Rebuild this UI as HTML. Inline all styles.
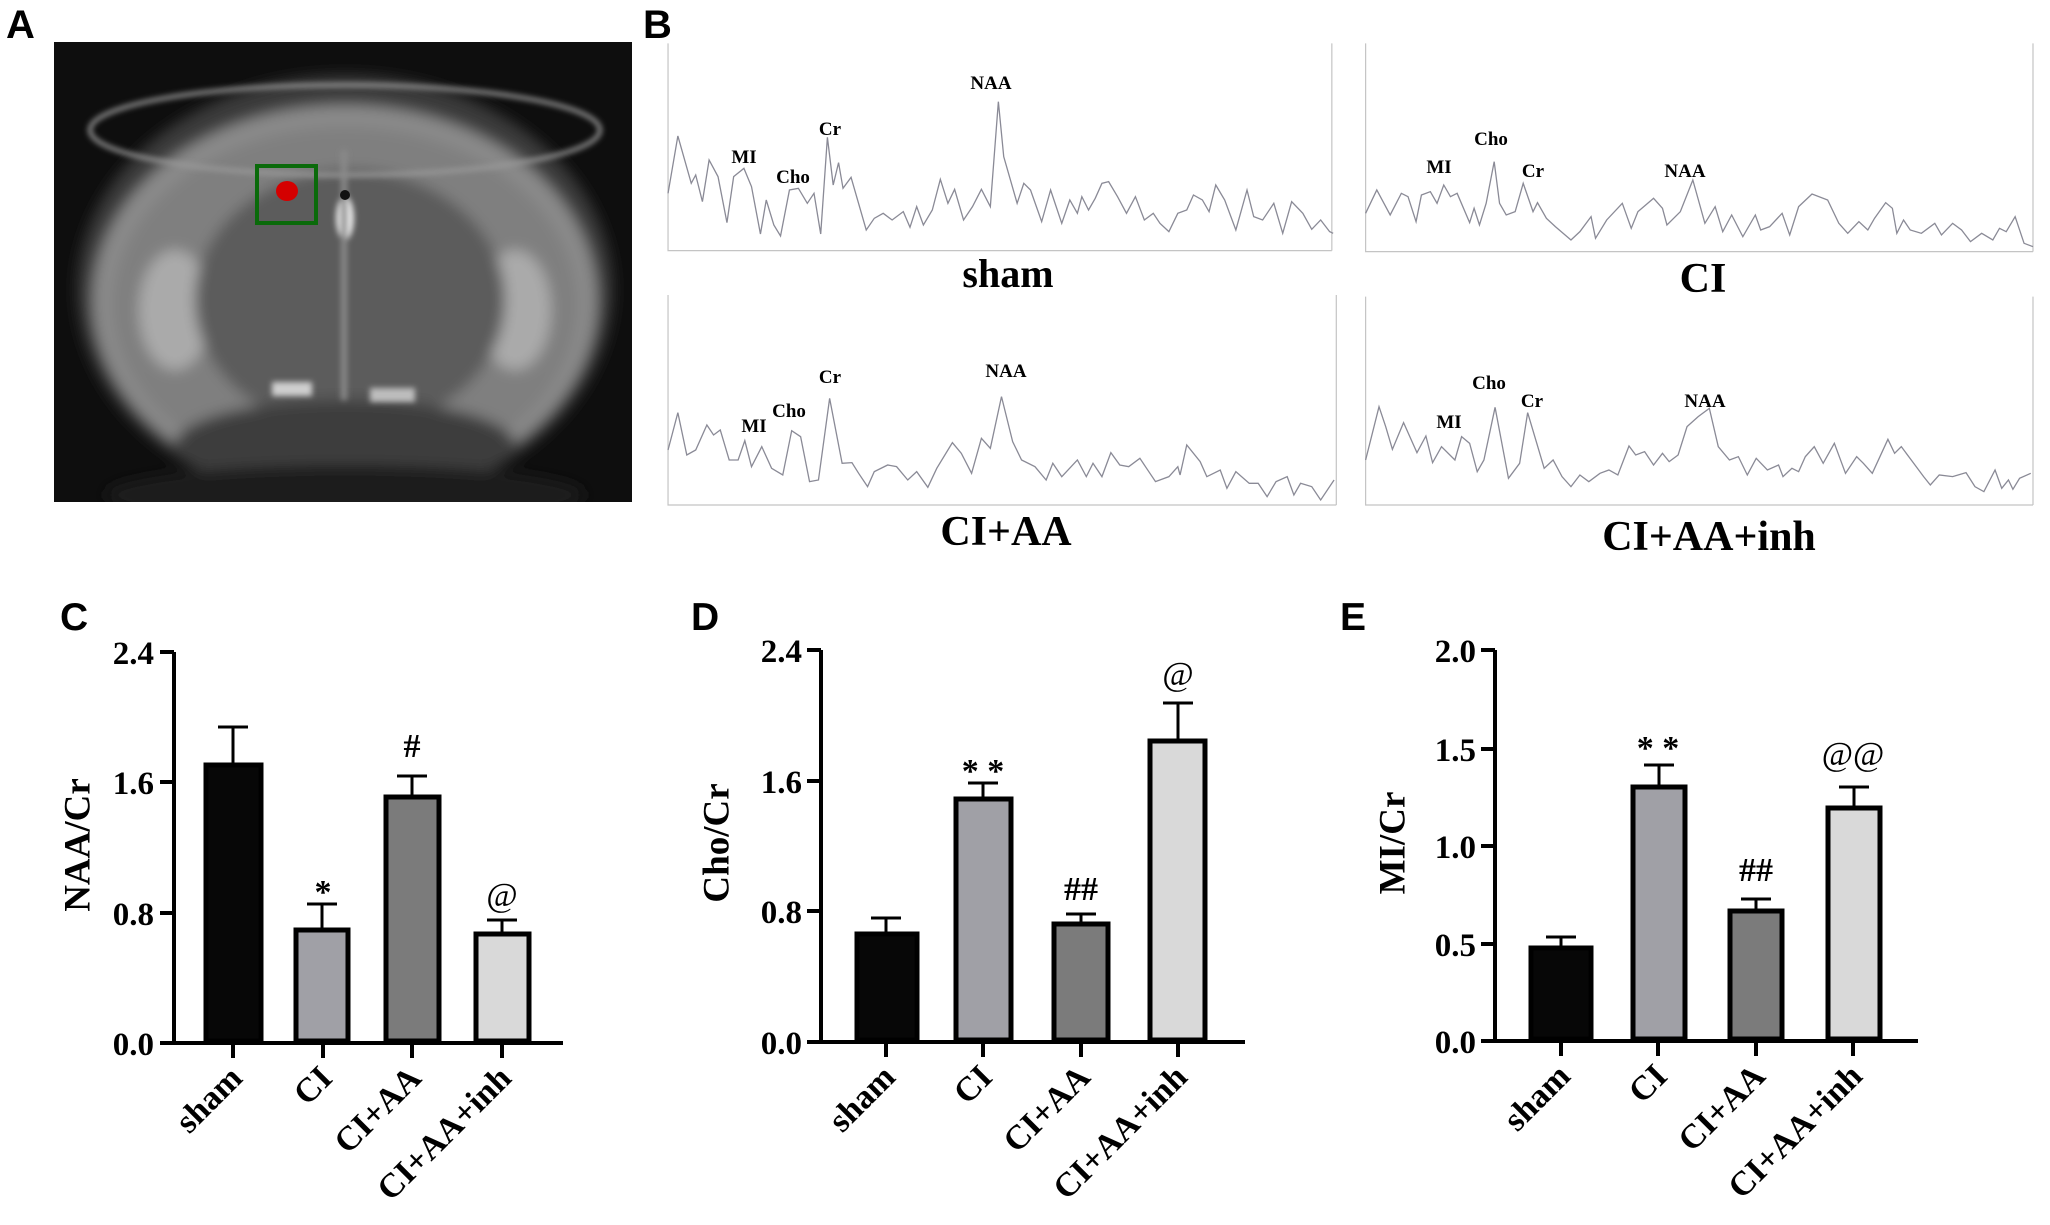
<!DOCTYPE html>
<html><head><meta charset="utf-8"><style>
html,body{margin:0;padding:0;background:#fff;}
svg{display:block;}
.t{font-family:"Liberation Serif",serif;font-weight:bold;fill:#000;}
.s{font-family:"Liberation Sans",sans-serif;font-weight:bold;fill:#000;}
.sp{fill:none;stroke:#8a8a96;stroke-width:1.3;vector-effect:non-scaling-stroke;}
.ax{stroke:#c4c4c4;stroke-width:1.2;vector-effect:non-scaling-stroke;fill:none;}
</style></head><body>
<svg width="2050" height="1225" viewBox="0 0 2050 1225" xmlns="http://www.w3.org/2000/svg">
<defs>
<filter id="bl" x="-20%" y="-20%" width="140%" height="140%"><feGaussianBlur stdDeviation="7"/></filter>
<filter id="bl2"><feGaussianBlur stdDeviation="3"/></filter>
<clipPath id="mri"><rect x="54" y="42" width="578" height="460"/></clipPath>
</defs>
<!-- Panel letters -->
<text class="s" x="6" y="38" font-size="40">A</text>
<text class="s" x="643" y="38" font-size="40">B</text>
<text class="s" x="60" y="630" font-size="39">C</text>
<text class="s" x="691" y="630" font-size="39">D</text>
<text class="s" x="1340" y="630" font-size="39">E</text>

<!-- MRI panel A -->
<rect x="54" y="42" width="578" height="460" fill="#0e0e0e"/>
<g clip-path="url(#mri)">
<g filter="url(#bl)">
<ellipse cx="345" cy="290" rx="268" ry="215" fill="#3a3a3a"/>
<ellipse cx="345" cy="300" rx="252" ry="195" fill="#8a8a8a"/>
<ellipse cx="345" cy="305" rx="232" ry="178" fill="#7f7f7f"/>
<ellipse cx="175" cy="310" rx="36" ry="60" fill="#aaaaaa"/>
<ellipse cx="515" cy="310" rx="36" ry="60" fill="#aaaaaa"/>
<ellipse cx="350" cy="300" rx="155" ry="130" fill="#5c5c5c"/>
<ellipse cx="345" cy="445" rx="170" ry="45" fill="#3c3c3c"/>
<ellipse cx="345" cy="495" rx="240" ry="30" fill="#1a1a1a"/>
</g>
<g filter="url(#bl2)">
<ellipse cx="345" cy="130" rx="255" ry="45" fill="none" stroke="#9a9a9a" stroke-width="4"/>
<ellipse cx="345" cy="218" rx="9" ry="22" fill="#e8e8e8"/>
<rect x="341" y="150" width="6" height="250" fill="#8a8a8a"/>
<rect x="272" y="382" width="40" height="14" fill="#cfcfcf"/>
<rect x="370" y="388" width="45" height="14" fill="#bdbdbd"/>
</g>
</g>
<circle cx="345" cy="195" r="5" fill="#111"/>
<rect x="257" y="166" width="59" height="57" fill="none" stroke="#0a6a0a" stroke-width="4"/>
<ellipse cx="287" cy="191" rx="11" ry="10" fill="#d40000"/>

<!-- Panel B spectra -->
<g transform="translate(660,30) scale(0.4464,0.3333)">
<path class="ax" d="M18,40 V662 H1505 M1505,40 V662"/>
<polyline class="sp" points="18,490 40,318 70,460 80,435 95,515 110,390 130,440 150,578 165,440 188,415 205,470 225,612 238,510 255,585 270,618 290,480 310,475 330,520 345,490 360,612 375,322 388,465 400,398 410,475 428,442 462,600 480,565 500,550 520,570 545,545 560,592 575,530 590,585 610,540 628,448 645,520 660,478 680,570 700,530 720,478 740,530 758,215 770,380 800,520 815,460 830,480 855,575 875,480 900,580 918,510 935,550 945,500 960,540 975,505 990,460 1005,455 1025,500 1045,550 1065,500 1085,570 1105,550 1120,580 1140,605 1160,550 1180,540 1195,495 1215,510 1230,545 1245,465 1265,510 1290,600 1315,480 1330,560 1350,570 1375,520 1395,610 1415,515 1440,550 1460,598 1480,570 1500,605 1508,610"/>
</g>
<g class="t" font-size="19" text-anchor="middle">
<text x="744" y="163">MI</text><text x="793" y="183">Cho</text><text x="830" y="135">Cr</text><text x="991" y="89">NAA</text>
</g>
<text class="t" x="1008" y="287" font-size="40" text-anchor="middle">sham</text>

<g transform="translate(1350,30) scale(0.4464,0.3333)">
<path class="ax" d="M35,40 V665 H1530 M1530,40 V665"/>
<polyline class="sp" points="35,550 60,480 90,555 115,490 130,500 148,575 160,495 180,485 195,520 210,465 225,500 240,490 268,578 278,535 290,585 305,520 323,395 335,520 350,555 370,545 388,460 410,545 420,518 440,565 460,590 495,630 515,605 540,560 550,625 575,570 610,520 630,595 645,545 680,505 700,535 710,585 740,545 768,450 795,580 818,530 835,605 855,555 880,620 908,555 920,600 940,590 968,550 985,615 1005,530 1035,492 1070,510 1095,580 1115,610 1140,575 1160,600 1175,565 1200,518 1215,535 1225,610 1240,570 1255,600 1280,610 1310,580 1325,615 1350,580 1370,600 1390,635 1415,610 1440,630 1455,595 1470,605 1490,560 1510,640 1530,650"/>
</g>
<g class="t" font-size="19" text-anchor="middle">
<text x="1439" y="173">MI</text><text x="1491" y="145">Cho</text><text x="1533" y="177">Cr</text><text x="1685" y="177">NAA</text>
</g>
<text class="t" x="1703" y="292" font-size="42" text-anchor="middle">CI</text>

<g transform="translate(660,290) scale(0.4464,0.3333)">
<path class="ax" d="M18,15 V645 H1515 M1515,15 V645"/>
<polyline class="sp" points="18,480 40,368 60,495 80,480 105,405 120,435 135,420 155,510 175,510 190,452 205,530 228,470 250,535 275,555 295,422 315,440 335,575 355,570 380,325 408,520 430,518 445,550 465,590 480,545 510,525 530,530 555,570 575,545 600,592 620,535 655,458 675,490 698,550 720,445 740,475 765,320 790,455 810,510 840,530 865,570 880,520 900,560 935,510 955,560 970,520 990,560 1010,488 1030,525 1050,530 1075,505 1090,535 1110,575 1140,560 1160,530 1165,555 1180,465 1210,515 1225,560 1255,540 1270,595 1290,545 1320,580 1340,580 1360,620 1380,575 1405,560 1420,615 1435,580 1460,590 1480,630 1510,570"/>
</g>
<g class="t" font-size="19" text-anchor="middle">
<text x="754" y="432">MI</text><text x="789" y="417">Cho</text><text x="830" y="383">Cr</text><text x="1006" y="377">NAA</text>
</g>
<text class="t" x="1006" y="545" font-size="42" text-anchor="middle">CI+AA</text>

<g transform="translate(1350,290) scale(0.4464,0.3333)">
<path class="ax" d="M35,20 V645 H1530 M1530,20 V645"/>
<polyline class="sp" points="35,510 65,350 80,410 95,478 120,398 150,488 170,438 185,518 205,470 235,510 250,440 268,460 285,545 300,510 325,352 355,565 380,520 398,368 418,458 435,535 455,510 475,560 495,590 515,555 535,575 560,550 580,540 600,555 625,468 640,495 660,485 680,525 700,490 715,515 735,495 755,410 780,380 805,355 825,470 850,510 870,500 890,555 910,505 935,540 960,525 970,560 990,535 1005,545 1020,500 1040,470 1060,520 1085,460 1110,550 1135,500 1150,520 1170,550 1205,448 1220,490 1235,470 1260,515 1285,560 1300,585 1320,555 1350,560 1380,548 1400,590 1420,605 1445,540 1460,595 1475,570 1485,598 1500,565 1525,550"/>
</g>
<g class="t" font-size="19" text-anchor="middle">
<text x="1449" y="428">MI</text><text x="1489" y="389">Cho</text><text x="1532" y="407">Cr</text><text x="1705" y="407">NAA</text>
</g>
<text class="t" x="1709" y="550" font-size="42" text-anchor="middle">CI+AA+inh</text>

<!-- Panel C -->
<g stroke="#000" stroke-width="4" fill="none">
<path d="M174,652 V1043 H563"/>
<path d="M160,652 H174 M160,782 H174 M160,913 H174 M160,1043 H174"/>
<path d="M233,1043 V1058 M323,1043 V1058 M412,1043 V1058 M502,1043 V1058"/>
</g>
<g stroke="#000" stroke-width="3">
<path d="M233,763 V727 M218,727 H248"/>
<path d="M322,928 V904 M307,904 H337"/>
<path d="M412,795 V776 M397,776 H427"/>
<path d="M502,932 V920 M487,920 H517"/>
</g>
<g stroke="#000" stroke-width="5">
<rect x="206" y="765" width="55" height="276" fill="#070707"/>
<rect x="296" y="930" width="52" height="111" fill="#a0a0a6"/>
<rect x="386" y="797" width="53" height="244" fill="#7b7b7b"/>
<rect x="476" y="934" width="53" height="107" fill="#d9d9d9"/>
</g>
<g class="t" font-size="33" text-anchor="end">
<text x="154" y="664">2.4</text><text x="154" y="794">1.6</text><text x="154" y="925">0.8</text><text x="154" y="1055">0.0</text>
</g>
<text class="t" font-size="37" text-anchor="middle" dominant-baseline="central" transform="translate(78,845) rotate(-90)">NAA/Cr</text>
<g class="t" font-size="34" text-anchor="middle">
<text x="323" y="903">*</text><text x="412" y="757">#</text><text x="502" y="906" font-weight="normal">@</text>
</g>
<g class="t" font-size="34" text-anchor="end">
<text transform="translate(244,1080) rotate(-45)">sham</text>
<text transform="translate(334,1080) rotate(-45)">CI</text>
<text transform="translate(423,1080) rotate(-45)">CI+AA</text>
<text transform="translate(513,1080) rotate(-45)">CI+AA+inh</text>
</g>

<!-- Panel D -->
<g stroke="#000" stroke-width="4" fill="none">
<path d="M821,650 V1042 H1245"/>
<path d="M807,650 H821 M807,781 H821 M807,911 H821 M807,1042 H821"/>
<path d="M886,1042 V1057 M983,1042 V1057 M1081,1042 V1057 M1178,1042 V1057"/>
</g>
<g stroke="#000" stroke-width="3">
<path d="M886,932 V918 M871,918 H901"/>
<path d="M983,797 V783 M968,783 H998"/>
<path d="M1081,922 V914 M1066,914 H1096"/>
<path d="M1178,739 V703 M1163,703 H1193"/>
</g>
<g stroke="#000" stroke-width="5">
<rect x="857" y="934" width="60" height="106" fill="#070707"/>
<rect x="956" y="799" width="55" height="241" fill="#a0a0a6"/>
<rect x="1054" y="924" width="54" height="116" fill="#7b7b7b"/>
<rect x="1150" y="741" width="55" height="299" fill="#d9d9d9"/>
</g>
<g class="t" font-size="33" text-anchor="end">
<text x="802" y="662">2.4</text><text x="802" y="793">1.6</text><text x="802" y="923">0.8</text><text x="802" y="1054">0.0</text>
</g>
<text class="t" font-size="37" text-anchor="middle" dominant-baseline="central" transform="translate(717,843) rotate(-90)">Cho/Cr</text>
<g class="t" font-size="34" text-anchor="middle">
<text x="983" y="782">* *</text><text x="1081" y="900">##</text><text x="1178" y="685" font-weight="normal">@</text>
</g>
<g class="t" font-size="34" text-anchor="end">
<text transform="translate(897,1079) rotate(-45)">sham</text>
<text transform="translate(994,1079) rotate(-45)">CI</text>
<text transform="translate(1092,1079) rotate(-45)">CI+AA</text>
<text transform="translate(1189,1079) rotate(-45)">CI+AA+inh</text>
</g>

<!-- Panel E -->
<g stroke="#000" stroke-width="4" fill="none">
<path d="M1495,650 V1041 H1918"/>
<path d="M1481,650 H1495 M1481,749 H1495 M1481,846 H1495 M1481,944 H1495 M1481,1041 H1495"/>
<path d="M1561,1041 V1056 M1658,1041 V1056 M1756,1041 V1056 M1853,1041 V1056"/>
</g>
<g stroke="#000" stroke-width="3">
<path d="M1561,946 V937 M1546,937 H1576"/>
<path d="M1659,785 V765 M1644,765 H1674"/>
<path d="M1756,909 V899 M1741,899 H1771"/>
<path d="M1854,806 V787 M1839,787 H1869"/>
</g>
<g stroke="#000" stroke-width="5">
<rect x="1531" y="948" width="60" height="91" fill="#070707"/>
<rect x="1633" y="787" width="52" height="252" fill="#a0a0a6"/>
<rect x="1730" y="911" width="52" height="128" fill="#7b7b7b"/>
<rect x="1828" y="808" width="52" height="231" fill="#d9d9d9"/>
</g>
<g class="t" font-size="33" text-anchor="end">
<text x="1476" y="662">2.0</text><text x="1476" y="761">1.5</text><text x="1476" y="858">1.0</text><text x="1476" y="956">0.5</text><text x="1476" y="1053">0.0</text>
</g>
<text class="t" font-size="37" text-anchor="middle" dominant-baseline="central" transform="translate(1393,843) rotate(-90)">MI/Cr</text>
<g class="t" font-size="34" text-anchor="middle">
<text x="1658" y="759">* *</text><text x="1756" y="881">##</text><text x="1853" y="765" font-weight="normal">@@</text>
</g>
<g class="t" font-size="34" text-anchor="end">
<text transform="translate(1572,1078) rotate(-45)">sham</text>
<text transform="translate(1669,1078) rotate(-45)">CI</text>
<text transform="translate(1767,1078) rotate(-45)">CI+AA</text>
<text transform="translate(1864,1078) rotate(-45)">CI+AA+inh</text>
</g>
</svg>
</body></html>
